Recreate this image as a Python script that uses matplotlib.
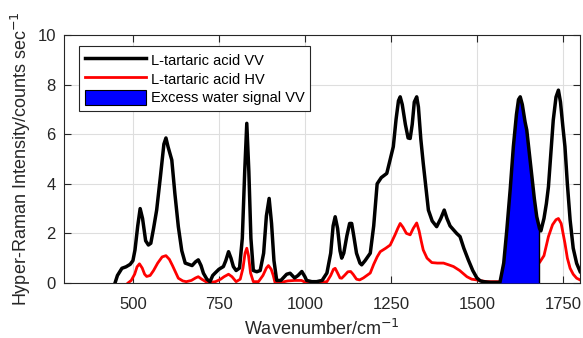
import numpy as np
import matplotlib
matplotlib.use('Agg')
from matplotlib import pyplot as plt
from matplotlib.patches import Patch
from matplotlib.lines import Line2D

plt.rcParams['font.family'] = ['Liberation Sans', 'DejaVu Sans']

# L-tartaric acid, VV polarisation
vv_wn = np.array([448, 455, 468, 480, 492, 500, 506, 514, 521, 528, 537, 545, 552, 560, 569,
                  580, 590, 596, 602, 613, 622, 632, 642, 652, 662, 672, 682, 690, 698, 705,
                  715, 724, 732, 739, 750, 763, 770, 778, 785, 792, 800, 810, 818, 825, 831,
                  837, 843, 850, 860, 870, 880, 888, 896, 903, 910, 918, 930, 947, 957, 970,
                  980, 991, 1000, 1005, 1020, 1034, 1050, 1064, 1075, 1082, 1088, 1095, 1102,
                  1107, 1113, 1122, 1130, 1136, 1142, 1150, 1160, 1165, 1175, 1190, 1200, 1210,
                  1222, 1238, 1250, 1257, 1265, 1272, 1277, 1283, 1292, 1300, 1306, 1312, 1318,
                  1325, 1330, 1337, 1344, 1352, 1359, 1370, 1383, 1395, 1405, 1413, 1422, 1432,
                  1441, 1451, 1462, 1475, 1488, 1500, 1510, 1519, 1540, 1567, 1578, 1587, 1597,
                  1606, 1615, 1621, 1626, 1632, 1640, 1645, 1652, 1660, 1667, 1674, 1682, 1686,
                  1695, 1702, 1708, 1715, 1722, 1730, 1737, 1743, 1750, 1756, 1763, 1771, 1780,
                  1790, 1800])
vv = np.array([0, 0.3, 0.59, 0.65, 0.75, 0.9, 1.33, 2.3, 3.0, 2.6, 1.7, 1.53, 1.6, 2.2, 2.94,
               4.3, 5.6, 5.85, 5.5, 4.96, 3.6, 2.27, 1.3, 0.8, 0.75, 0.7, 0.85, 0.93, 0.7, 0.39,
               0.15, 0.05, 0.3, 0.4, 0.55, 0.66, 0.9, 1.26, 1.0, 0.66, 0.5, 0.6, 1.8, 4.5, 6.44,
               4.5, 1.8, 0.5, 0.45, 0.5, 1.2, 2.7, 3.41, 2.4, 0.9, 0.1, 0.1, 0.35, 0.39, 0.2,
               0.3, 0.46, 0.25, 0.1, 0.05, 0.05, 0.1, 0.4, 1.2, 2.3, 2.67, 2.2, 1.3,
               1.0, 1.2, 1.9, 2.4, 2.4, 1.9, 1.2, 0.8, 0.73, 0.9, 1.2, 2.3, 4.0,
               4.25, 4.42, 5.1, 5.5, 6.6, 7.35, 7.51, 7.2, 6.4, 5.85, 5.83, 6.4, 7.3,
               7.51, 7.1, 5.8, 4.83, 3.8, 2.94, 2.5, 2.27, 2.6, 2.94, 2.6, 2.3, 2.14,
               2.0, 1.87, 1.4, 0.93, 0.5, 0.2, 0.08, 0.05, 0.02, 0.02, 0.8, 2.14, 3.8,
               5.5, 6.8, 7.4, 7.51, 7.2, 6.5, 6.17, 5.3, 4.29, 3.4, 2.67, 2.2, 2.1,
               2.6, 3.2, 3.88, 5.2, 6.57, 7.5, 7.78, 7.3, 6.3, 5.5, 4.0, 2.54, 1.4,
               0.79, 0.46])

# L-tartaric acid, HV polarisation
hv_wn = np.array([486, 495, 505, 512, 519, 527, 534, 540, 550, 560, 572, 585, 596, 606, 615,
                  625, 632, 645, 655, 670, 682, 690, 700, 712, 724, 740, 755, 765, 778, 788,
                  800, 812, 820, 826, 831, 836, 842, 850, 865, 878, 888, 894, 902, 908, 913,
                  930, 950, 970, 990, 1005, 1030, 1050, 1064, 1075, 1083, 1088, 1095, 1102,
                  1107, 1115, 1125, 1133, 1140, 1150, 1159, 1170, 1180, 1190, 1200, 1210,
                  1219, 1235, 1248, 1262, 1270, 1277, 1285, 1295, 1306, 1315, 1325, 1332,
                  1338, 1344, 1355, 1369, 1385, 1403, 1420, 1432, 1450, 1471, 1485, 1500,
                  1515, 1529, 1550, 1565, 1580, 1600, 1620, 1640, 1660, 1682, 1695, 1708,
                  1720, 1730, 1737, 1745, 1756, 1763, 1771, 1780, 1790, 1800])
hv = np.array([0, 0.1, 0.35, 0.65, 0.77, 0.6, 0.35, 0.26, 0.3, 0.5, 0.8, 1.05, 1.1, 0.95, 0.7,
               0.4, 0.19, 0.08, 0.05, 0.1, 0.2, 0.25, 0.15, 0.05, 0.02, 0.05, 0.15, 0.25, 0.35, 0.25,
               0.05, 0.15, 0.6, 1.2, 1.4, 1.1, 0.4, 0.05, 0.05, 0.3, 0.6, 0.7, 0.55, 0.3, 0.02,
               0.02, 0.08, 0.1, 0.1, 0.0, 0.02, 0.03, 0.05, 0.3, 0.55, 0.59, 0.4, 0.2,
               0.19, 0.3, 0.45, 0.46, 0.35, 0.15, 0.12, 0.2, 0.3, 0.4, 0.75, 1.05,
               1.26, 1.4, 1.53, 1.94, 2.2, 2.4, 2.25, 2.0, 1.94, 2.2, 2.42, 2.1,
               1.7, 1.33, 1.0, 0.82, 0.8, 0.8, 0.72, 0.66, 0.5, 0.25, 0.15, 0.12,
               0.08, 0.05, 0.05, 0.05, 0.2, 0.35, 0.45, 0.6, 0.7, 0.82, 1.1, 1.87,
               2.35, 2.55, 2.6, 2.4, 1.6, 1.0, 0.59, 0.35, 0.19, 0.12])

# excess water band (VV), filled region
water_lo, water_hi = 1567, 1682

xticks = [500, 750, 1000, 1250, 1500, 1750]
yticks = [0, 2, 4, 6, 8, 10]

axcol = '0.15'
fig = plt.figure(figsize=(5.83, 3.38), dpi=100)
ax = fig.add_axes([0.110, 0.163, 0.885, 0.733])

ax.plot(hv_wn, hv, color='red', lw=2.0, zorder=2)
mask = (vv_wn >= water_lo) & (vv_wn <= water_hi)
ax.fill_between(vv_wn[mask], vv[mask], 0, color='#0000ff', lw=0, zorder=3)
ax.plot([water_hi, water_hi], [0, vv[vv_wn == water_hi][0]], color='black', lw=1.0, zorder=3)
ax.plot(vv_wn, vv, color='black', lw=2.5, zorder=4)

ax.set_xlim(300, 1800)
ax.set_ylim(0, 10)
ax.set_xticks(xticks)
ax.set_yticks(yticks)
ax.grid(True, color='0.87', lw=0.8)
ax.set_axisbelow(True)
ax.tick_params(direction='in', top=True, right=True, length=5, width=0.8,
               labelsize=12, colors=axcol, pad=6)
ax.tick_params(axis='x', pad=10)
for s in ax.spines.values():
    s.set_color(axcol)
    s.set_linewidth(0.8)

ax.set_xlabel('Wavenumber/cm$^{-1}$', fontsize=13, color=axcol, labelpad=5)
ax.set_ylabel('Hyper-Raman Intensity/counts sec$^{-1}$', fontsize=13, color=axcol, labelpad=3)

handles = [Line2D([], [], color='black', lw=2.5),
           Line2D([], [], color='red', lw=2.0),
           Patch(facecolor='#0000ff', edgecolor='black', lw=0.8)]
labels = ['L-tartaric acid VV', 'L-tartaric acid HV', 'Excess water signal VV']
leg = ax.legend(handles, labels, loc='upper left', bbox_to_anchor=(0.029, 0.956),
                borderaxespad=0, fontsize=10.5, handlelength=4.2, handleheight=1.3,
                handletextpad=0.3, labelspacing=0.2, borderpad=0.4,
                fancybox=False, framealpha=1, edgecolor=axcol)
leg.get_frame().set_linewidth(0.8)

fig.savefig('out.png', dpi=100)
